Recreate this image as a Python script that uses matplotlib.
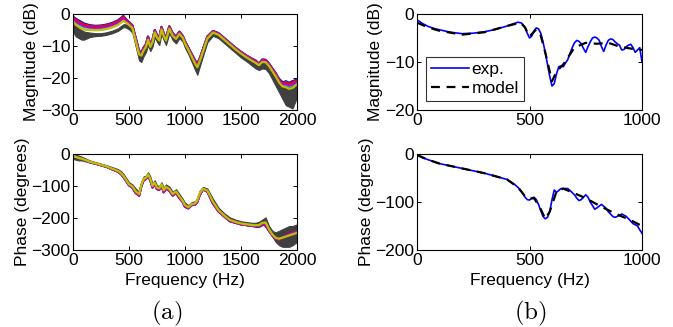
import numpy as np
import matplotlib
matplotlib.use("Agg")
import matplotlib.pyplot as plt

plt.rcParams['font.family'] = ['Liberation Sans', 'DejaVu Sans']
plt.rcParams['mathtext.fontset'] = 'cm'

# ---------------- panel (a): many measured FRFs ----------------
freq_a = [0, 25, 50, 75, 100, 150, 200, 250, 300, 350, 400, 430, 450, 470, 500, 530,
          560, 590, 610, 630, 650, 670, 690, 710, 730, 750, 770, 790, 810, 830, 860,
          890, 920, 950, 980, 1000, 1030, 1060, 1090, 1110, 1130, 1160, 1200, 1250,
          1300, 1350, 1400, 1450, 1500, 1550, 1600, 1630, 1660, 1690, 1720, 1750,
          1780, 1810, 1840, 1870, 1900, 1930, 1960, 2000]

mag_top = [-0.8, -1.5, -2.0, -2.5, -3.0, -3.5, -3.7, -3.6, -3.3, -2.8, -2.0, -1.2, -0.6,
           -1.5, -2.5, -3.5, -7.5, -11.5, -12, -10.5, -9.5, -7.0, -9.5, -8.0, -5.0, -6.5,
           -7.5, -4.0, -6.0, -7.5, -3.8, -6.0, -7.0, -5.5, -6.8, -8.5, -10.5, -12.5, -14.5,
           -15.5, -14, -11, -7.0, -5.3, -6.0, -7.5, -9.0, -10.5, -11.8, -13, -14, -14.5,
           -15.5, -14.2, -14.3, -15.5, -17, -18.5, -20.5, -21.5, -21, -21.5, -21, -20.5]

mag_gray_hi = [-2, -3.5, -4.5, -5, -5.5, -5.8, -6.0, -6.0, -5.7, -5.2, -4.5, -3.7, -3.2, -3.2, -3.7,
               -4.7, -8.7, -12.7, -13, -11.5, -10.5, -8.5, -10.5, -9, -6, -7.5, -8.5, -5,
               -7, -8.5, -4.8, -7, -8, -6.3, -7.5, -9.3, -11.3, -13.5, -15.5, -16.5, -15,
               -12, -7.8, -5.8, -6.5, -8, -9.5, -11, -12.3, -13.5, -14.5, -15, -15.5, -14.5,
               -14.5, -15.5, -17, -18.5, -20, -21, -21, -21.5, -21, -21]
mag_gray_lo = [-5.5, -7.0, -7.5, -8.0, -8.0, -7.2, -6.9, -6.8, -6.5, -6.0, -5.3, -4.6, -4.1, -4.2,
               -4.8, -5.8, -10.2, -14.5, -15.0, -13.2, -12.0, -9.7, -11.6, -10.2, -7.2, -8.7, -9.7,
               -6.3, -8.2, -9.7, -6.0, -8.2, -9.2, -7.5, -8.7, -10.6, -12.6, -15.0, -17.5, -19.0,
               -16.6, -13.2, -8.8, -6.8, -7.6, -9.1, -10.6, -12.1, -13.6, -14.8, -16.2, -17.0, -17.5,
               -17.0, -17.2, -18.5, -20.5, -22.5, -24.5, -26.5, -28.5, -29, -29.5, -26]

ph_bot = [-3, -8, -12, -15, -18, -25, -30, -35, -40, -48, -55, -63, -72, -82, -98, -105,
          -122, -130, -100, -82, -78, -68, -82, -105, -95, -110, -112, -98, -120, -108,
          -115, -130, -122, -138, -150, -165, -170, -160, -158, -150, -130, -110, -118,
          -155, -180, -195, -210, -215, -220, -222, -225, -225, -225, -218, -225, -240,
          -255, -265, -268, -260, -255, -250, -245, -245]

ph_gray_hi = [0, -2, -5, -8, -12, -20, -25, -30, -35, -41, -47, -54, -62, -72, -88, -95,
              -108, -118, -90, -70, -68, -57, -70, -92, -82, -98, -100, -88, -105, -95,
              -102, -118, -110, -125, -140, -152, -160, -150, -148, -138, -115, -103,
              -108, -140, -168, -185, -198, -205, -210, -213, -215, -215, -212, -205,
              -198, -225, -240, -245, -240, -235, -230, -225, -225, -220]
ph_gray_lo = [-15, -18, -20, -20, -22, -27, -31, -36, -41, -48, -55, -62, -70, -80, -96,
              -103, -118, -126, -100, -80, -77, -65, -78, -100, -90, -106, -108, -96, -113,
              -103, -110, -126, -118, -133, -148, -160, -168, -158, -156, -146, -123, -112,
              -116, -150, -178, -195, -208, -215, -220, -223, -225, -228, -228, -222, -215,
              -240, -258, -275, -285, -290, -290, -290, -285, -275]

series_colors = ['#0000ff', '#008000', '#ff0000', '#00bfbf', '#bf00bf', '#bfbf00']
mag_frac = [0.0, 0.08, 0.1, 0.3, 0.22, 0.5]
ph_frac = [0.0, 0.15, 0.05, 0.3, 0.12, 0.6]
gray = '#404040'

# ---------------- panel (b): model vs experiment ----------------
freq_exp = [0, 25, 50, 75, 100, 150, 200, 250, 300, 350, 400, 430, 450, 465, 480, 490, 500,
            510, 520, 530, 540, 550, 560, 570, 580, 590, 600, 610, 620, 630, 640, 650, 660,
            670, 680, 690, 700, 710, 720, 730, 740, 750, 760, 770, 780, 790, 800, 810, 820,
            830, 840, 850, 860, 870, 880, 890, 900, 910, 920, 930, 940, 950, 960, 970, 980,
            990, 1000]
mag_exp = [-1.2, -2.0, -2.6, -3.0, -3.3, -3.8, -4.1, -4.0, -3.7, -3.2, -2.5, -2.0, -1.7,
           -1.9, -2.8, -4.0, -5.0, -4.6, -3.5, -2.9, -3.1, -4.0, -5.8, -8.0, -10.5, -13.0,
           -15.0, -14.5, -12.5, -11.0, -10.8, -11.0, -10.2, -9.5, -8.2, -7.0, -6.0, -5.5,
           -5.7, -6.2, -7.2, -8.0, -6.8, -5.8, -5.0, -4.8, -5.0, -5.5, -6.8, -7.8, -6.5,
           -5.5, -5.2, -5.3, -5.8, -6.2, -6.5, -7.5, -7.4, -6.8, -6.5, -6.3, -7.0, -8.0,
           -7.5, -7.0, -10.0]
freq_mod = [0, 50, 100, 200, 300, 400, 460, 480, 500, 530, 550, 570, 600, 620, 650, 700,
            750, 800, 850, 900, 950, 1000]
mag_mod = [-1.8, -2.8, -3.5, -4.3, -3.8, -2.5, -1.8, -2.8, -4.7, -3.2, -4.5, -8.0, -14.0,
           -12.0, -10.5, -7.0, -6.0, -6.2, -6.0, -6.8, -7.2, -7.5]

freq_phexp = [0, 25, 50, 100, 200, 300, 400, 430, 450, 470, 480, 490, 500, 510, 520, 530,
              540, 550, 560, 570, 580, 590, 600, 610, 620, 630, 640, 660, 670, 680, 700,
              710, 720, 730, 750, 760, 770, 790, 800, 820, 840, 850, 870, 880, 900, 910,
              930, 950, 960, 980, 990, 1000]
ph_exp = [-2, -8, -12, -20, -30, -40, -53, -62, -70, -82, -90, -95, -96, -92, -90, -95,
          -105, -118, -130, -135, -132, -120, -95, -75, -80, -76, -72, -72, -72, -76, -85,
          -92, -97, -95, -85, -90, -100, -115, -112, -105, -113, -120, -130, -132, -128,
          -125, -130, -140, -145, -150, -158, -165]
freq_phmod = [0, 50, 100, 200, 300, 400, 450, 480, 500, 520, 545, 570, 590, 620, 650,
              700, 750, 800, 850, 900, 950, 1000]
ph_mod = [-2, -12, -20, -30, -40, -53, -70, -88, -93, -92, -110, -135, -120, -78, -72,
          -82, -92, -105, -117, -128, -138, -150]

# ---------------- figure ----------------
W, H = 673, 327
fig = plt.figure(figsize=(W / 100, H / 100), dpi=100)

def ax_at(x0, x1, ytop, ybot):
    return fig.add_axes([x0 / W, 1 - ybot / H, (x1 - x0) / W, (ybot - ytop) / H])

ax1 = ax_at(73, 297, 14, 110)
ax2 = ax_at(73, 297, 154, 250)
ax3 = ax_at(417, 642, 14, 110)
ax4 = ax_at(417, 642, 154, 250)

fa = np.array(freq_a)
mt = np.array(mag_top)
mg_mid = (np.array(mag_gray_hi) + np.array(mag_gray_lo)) / 2
pb = np.array(ph_bot)
pg_mid = (np.array(ph_gray_hi) + np.array(ph_gray_lo)) / 2

for c, fm, fp in zip(series_colors, mag_frac, ph_frac):
    ax1.plot(fa, mt + fm * (mg_mid - mt), color=c, lw=1.6)
    ax2.plot(fa, pb + fp * (pg_mid - pb), color=c, lw=1.6)
ax1.fill_between(fa, mag_gray_lo, mag_gray_hi, color=gray, lw=0.8, edgecolor=gray)
ax2.fill_between(fa, ph_gray_lo, ph_gray_hi, color=gray, lw=0.8, edgecolor=gray)

ax3.plot(freq_exp, mag_exp, color='#0000ff', lw=1.2, label='exp.')
ax3.plot(freq_mod, mag_mod, color='black', lw=1.6, ls=(0, (4, 3)), label='model')
ax4.plot(freq_phexp, ph_exp, color='#0000ff', lw=1.2)
ax4.plot(freq_phmod, ph_mod, color='black', lw=1.6, ls=(0, (4, 3)))

fs = 12.5
for ax in (ax1, ax2, ax3, ax4):
    ax.tick_params(direction='in', top=True, right=True, length=3, width=0.7,
                   labelsize=fs, pad=2)
    for s in ax.spines.values():
        s.set_linewidth(0.8)

ax1.set_xlim(0, 2000); ax1.set_ylim(-30, 0)
ax1.set_xticks([0, 500, 1000, 1500, 2000]); ax1.set_yticks([-30, -20, -10, 0])
ax2.set_xlim(0, 2000); ax2.set_ylim(-300, 0)
ax2.set_xticks([0, 500, 1000, 1500, 2000]); ax2.set_yticks([-300, -200, -100, 0])
ax3.set_xlim(0, 1000); ax3.set_ylim(-20, 0)
ax3.set_xticks([0, 500, 1000]); ax3.set_yticks([-20, -10, 0])
ax4.set_xlim(0, 1000); ax4.set_ylim(-200, 0)
ax4.set_xticks([0, 500, 1000]); ax4.set_yticks([-200, -100, 0])

ax1.set_ylabel('Magnitude (dB)', fontsize=fs, labelpad=1)
ax3.set_ylabel('Magnitude (dB)', fontsize=fs, labelpad=1)
ax2.set_ylabel('Phase (degrees)', fontsize=fs, labelpad=1)
ax4.set_ylabel('Phase (degrees)', fontsize=fs, labelpad=1)
ax2.set_xlabel('Frequency (Hz)', fontsize=fs, labelpad=4)
ax4.set_xlabel('Frequency (Hz)', fontsize=fs, labelpad=4)

leg = ax3.legend(loc='lower left', fontsize=fs, frameon=True, fancybox=False,
                 borderaxespad=0.5, handlelength=2.2, handletextpad=0.15,
                 borderpad=0.3, labelspacing=0.2)
leg.get_frame().set_edgecolor('black')
leg.get_frame().set_linewidth(0.8)

fig.text(167 / W, 1 - 313 / H, r'$\mathrm{(a)}$', fontsize=18, ha='center', va='center')
fig.text(530 / W, 1 - 313 / H, r'$\mathrm{(b)}$', fontsize=18, ha='center', va='center')

fig.savefig('out.png', dpi=100)
